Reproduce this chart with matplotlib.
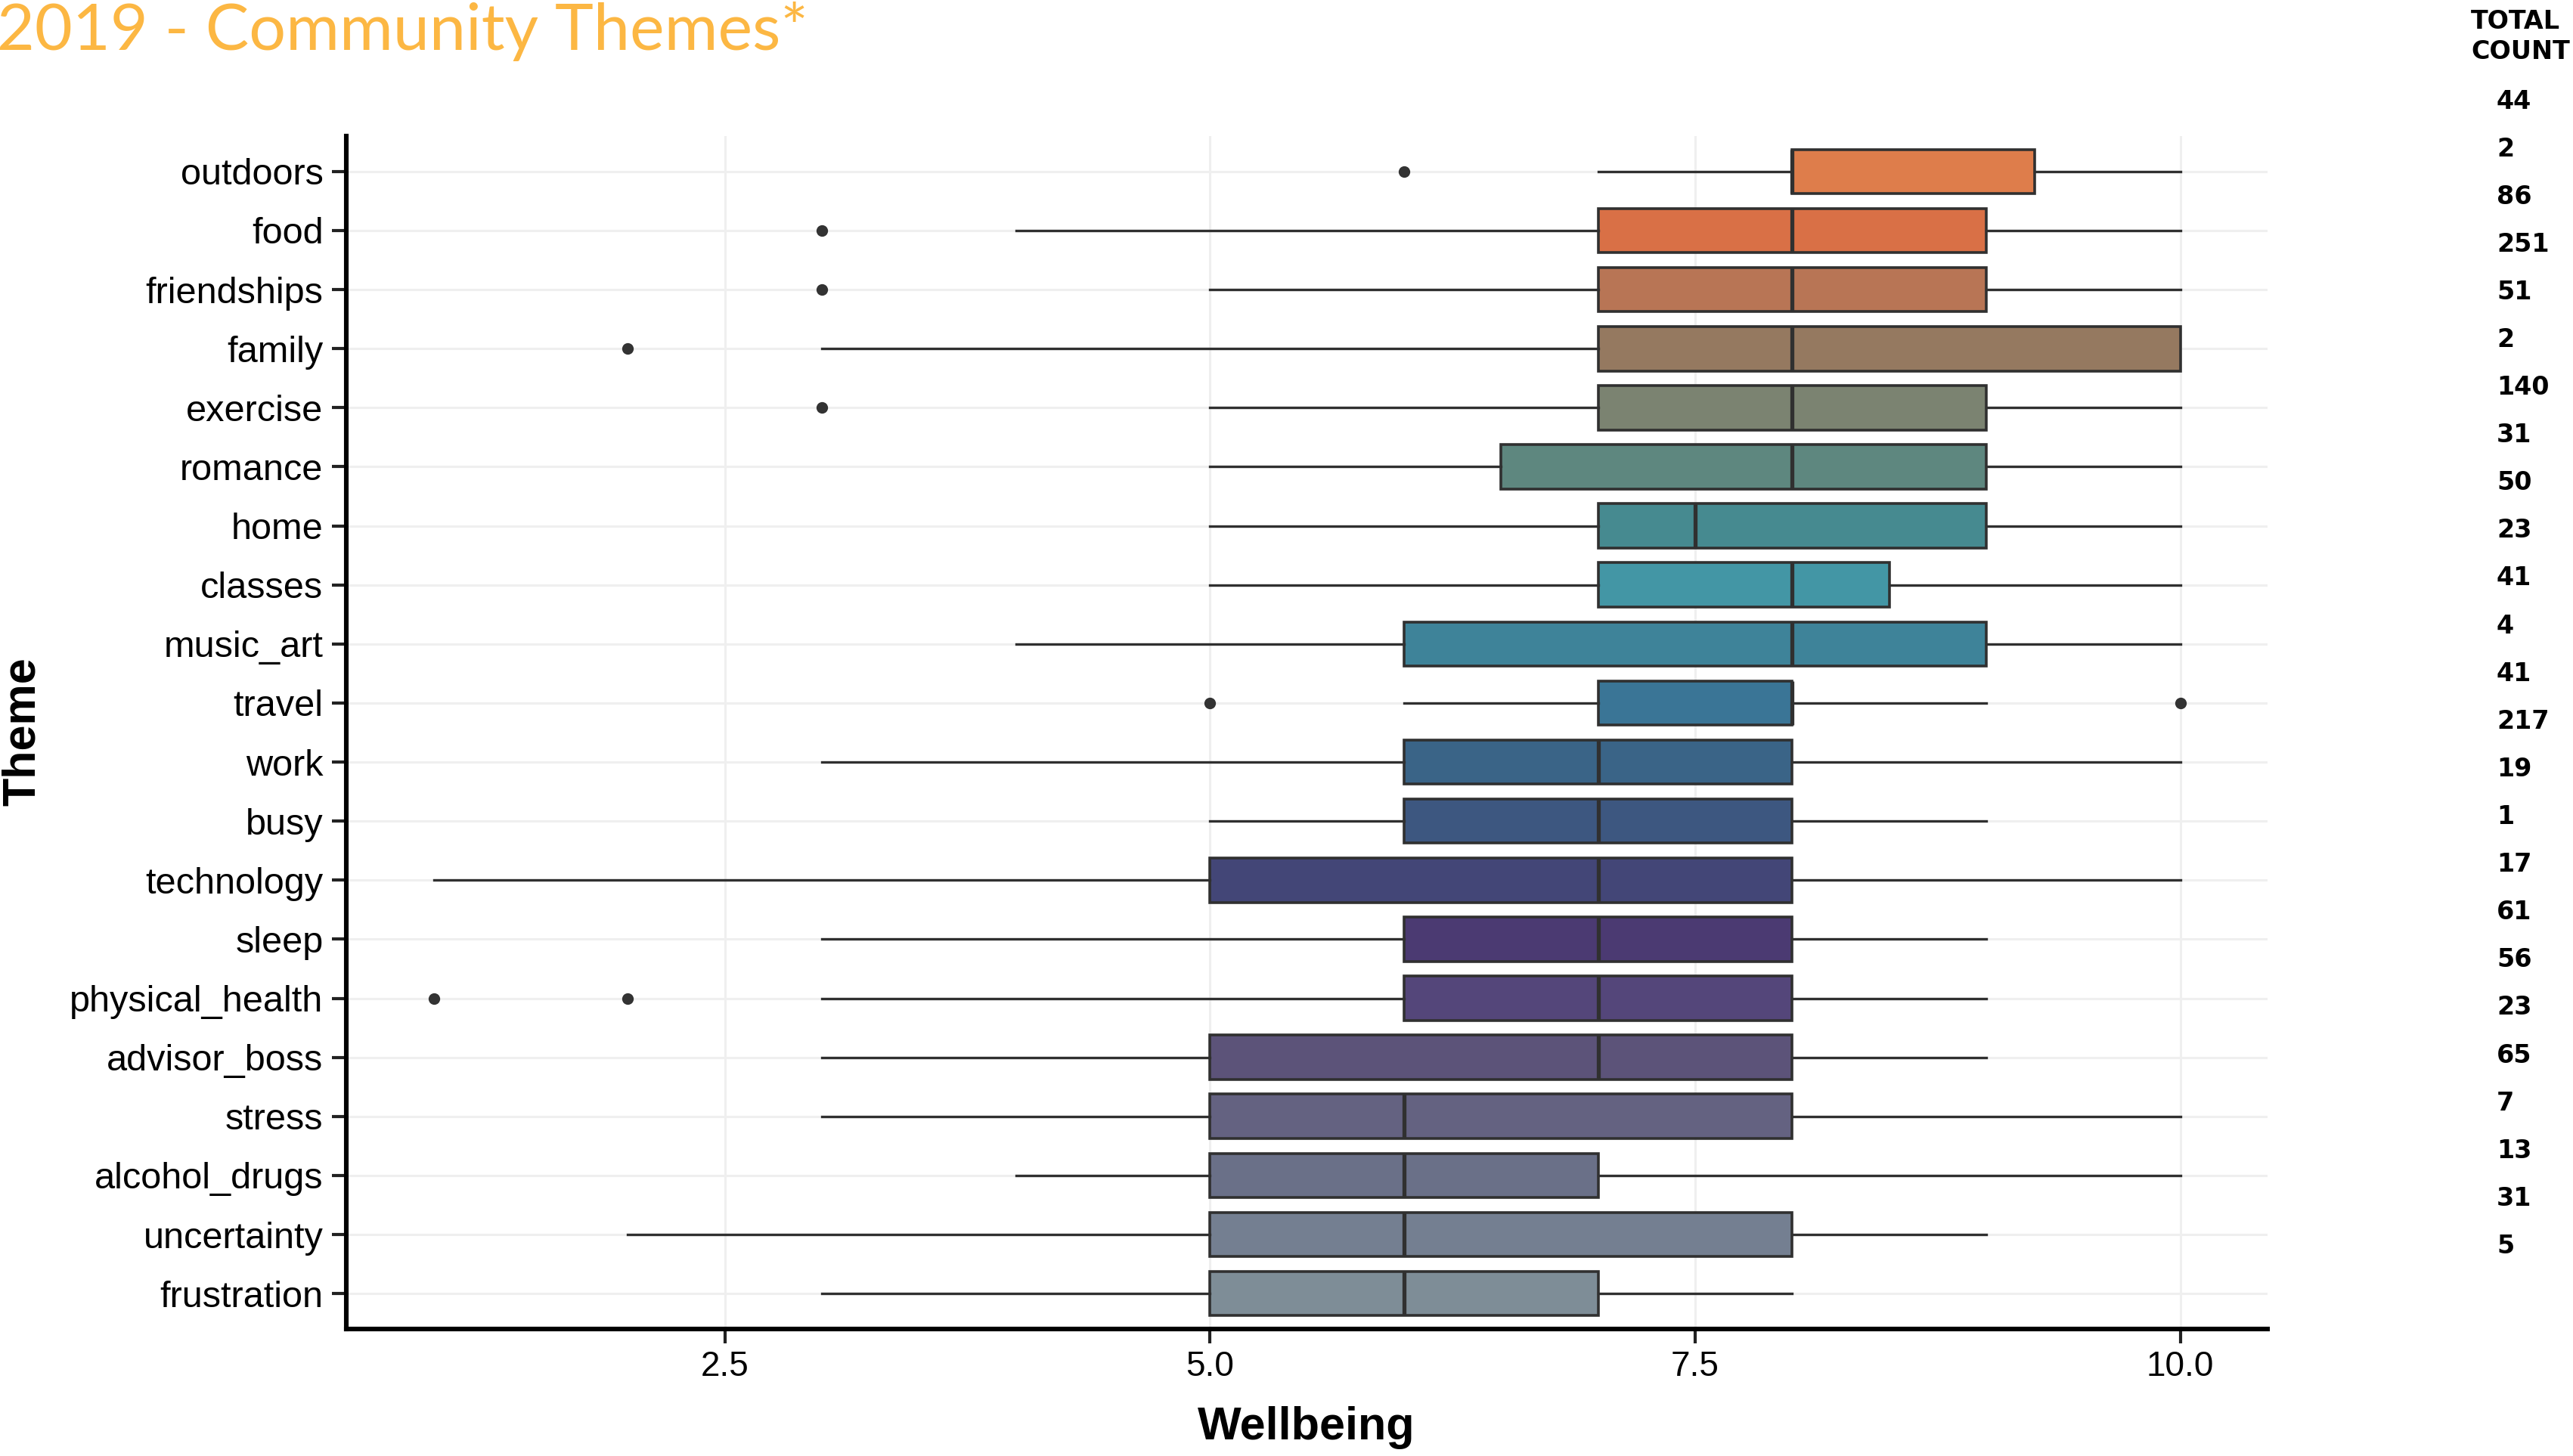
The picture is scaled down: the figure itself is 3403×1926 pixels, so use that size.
import numpy as np
import matplotlib
matplotlib.use("Agg")
import matplotlib.pyplot as plt

# themes, top to bottom
themes = ["outdoors", "food", "friendships", "family", "exercise", "romance",
          "home", "classes", "music_art", "travel", "work", "busy",
          "technology", "sleep", "physical_health", "advisor_boss", "stress",
          "alcohol_drugs", "uncertainty", "frustration"]

# box stats
whis_lo = [7, 4, 5, 3, 5, 5, 5, 5, 4, 6, 3, 5, 1, 3, 3, 3, 3, 4, 2, 3]
q1      = [8, 7, 7, 7, 7, 6.5, 7, 7, 6, 7, 6, 6, 5, 6, 6, 5, 5, 5, 5, 5]
median  = [8, 8, 8, 8, 8, 8, 7.5, 8, 8, 8, 7, 7, 7, 7, 7, 7, 6, 6, 6, 6]
q3      = [9.25, 9, 9, 10, 9, 9, 9, 8.5, 9, 8, 8, 8, 8, 8, 8, 8, 8, 7, 8, 7]
whis_hi = [10, 10, 10, 10, 10, 10, 10, 10, 10, 9, 10, 9, 10, 9, 9, 9, 10, 10, 9, 8]
outliers = [[6], [3], [3], [2], [3], [], [], [], [], [5, 10], [], [], [], [],
            [1, 2], [], [], [], [], []]

colors = ["#DE7D4B", "#D97046", "#B87555", "#957960", "#7B8371", "#5E877F",
          "#468A90", "#4396A5", "#3E8399", "#3A7596", "#3A6487", "#3D5780",
          "#434677", "#4B3A72", "#54467A", "#5C5379", "#646281", "#6A7088",
          "#747F91", "#7E8D97"]

# right-hand total count column (as printed)
total_counts = [44, 2, 86, 251, 51, 2, 140, 31, 50, 23, 41, 4, 41, 217,
                19, 1, 17, 61, 56, 23, 65, 7, 13, 31, 5]

plt.rcParams['font.family'] = ['Liberation Sans', 'DejaVu Sans']

W, H, DPI = 3403, 1926, 200
fig = plt.figure(figsize=(W / DPI, H / DPI), dpi=DPI)
ax = fig.add_axes([458 / W, 1 - 1758 / H, (2999 - 458) / W, (1758 - 180) / H])

n = len(themes)
pos = np.arange(n)[::-1]

stats = []
for i in range(n):
    stats.append(dict(med=median[i], q1=q1[i], q3=q3[i], whislo=whis_lo[i],
                      whishi=whis_hi[i], fliers=outliers[i], label=themes[i]))

kw = dict(positions=pos, widths=0.75, patch_artist=True, showcaps=False,
          boxprops=dict(edgecolor="#303030", linewidth=1.3),
          whiskerprops=dict(color="#303030", linewidth=1.2),
          medianprops=dict(color="#303030", linewidth=1.9),
          flierprops=dict(marker="o", markerfacecolor="#333333",
                          markeredgecolor="#333333", markersize=4.5))
try:
    bp = ax.bxp(stats, orientation="horizontal", **kw)
except TypeError:
    bp = ax.bxp(stats, vert=False, **kw)

for patch, c in zip(bp["boxes"], colors):
    patch.set_facecolor(c)
for b in bp["boxes"] + bp["whiskers"] + bp["medians"] + bp["fliers"]:
    b.set_zorder(3)

ax.set_xlim(0.55, 10.45)
ax.set_ylim(-0.6, n - 0.4)
ax.set_xticks([2.5, 5.0, 7.5, 10.0])
ax.set_xticklabels(["2.5", "5.0", "7.5", "10.0"])
ax.set_yticks(pos)
ax.set_yticklabels(themes)

ax.grid(True, color="#EFEFEF", linewidth=1.1, zorder=0)
ax.set_axisbelow(True)
for s in ["top", "right"]:
    ax.spines[s].set_visible(False)
for s in ["left", "bottom"]:
    ax.spines[s].set_linewidth(2.2)
    ax.spines[s].set_color("black")
ax.tick_params(axis="both", length=7, width=1.5, color="#222222",
               labelcolor="black")
ax.tick_params(axis="y", pad=4, labelsize=17.5)
ax.tick_params(axis="x", pad=3, labelsize=16.5)

fig.text(1728 / W, 1 - 1888 / H, "Wellbeing", ha="center", va="center",
         fontsize=22, fontweight="bold")
fig.text(30 / W, 1 - 968 / H, "Theme", ha="center", va="center",
         rotation=90, fontsize=22, fontweight="bold")

fig.text(-4 / W, 1 - 2 / H, "2019 - Community Themes*", ha="left", va="top",
         fontsize=31, color="#FCB743", family=["Lato", "DejaVu Sans"])

fig.text(3268 / W, 1 - 12 / H, "TOTAL\nCOUNT", ha="left", va="top",
         fontsize=12, fontweight="bold", family=["DejaVu Sans"],
         linespacing=1.25)
for i, c in enumerate(total_counts):
    yy = 134 + i * 63.1
    fig.text(3302 / W, 1 - yy / H, str(c), ha="left", va="center",
             fontsize=12, fontweight="bold", family=["DejaVu Sans"])

fig.savefig("out.png", dpi=DPI, facecolor="white")
